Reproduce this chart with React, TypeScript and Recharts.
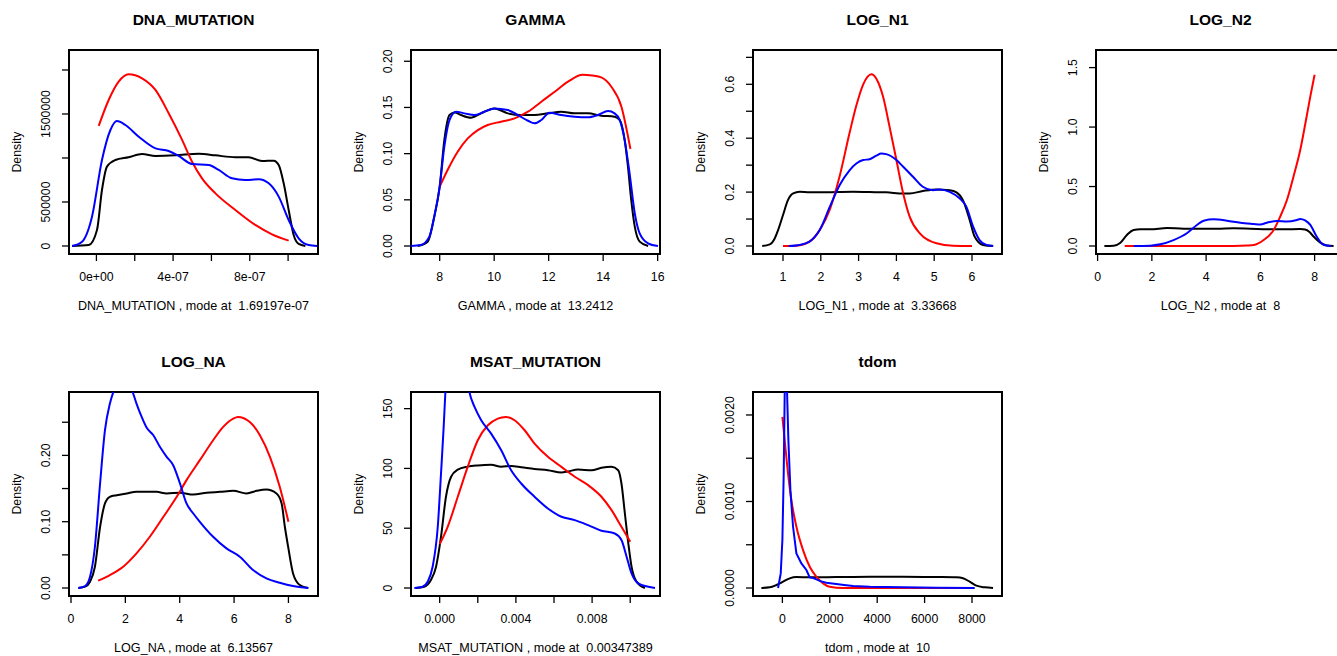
import React from "react";
import { LineChart, Line, XAxis, YAxis, ReferenceArea } from "recharts";

type Pt = [number, number];

const FONT = "'Liberation Sans', Arial, Helvetica, sans-serif";

// density curves: [x, density]
const DNA_BLACK: Pt[] = [
  [-1.27e-7, 0], [-4e-8, 1.1e4], [3e-9, 1.82e5], [2.9e-8, 6.36e5], [5.5e-8, 9.02e5],
  [9.9e-8, 9.77e5], [1.68e-7, 1.008e6], [2.38e-7, 1.045e6], [3.08e-7, 1.023e6],
  [4.12e-7, 1.03e6], [5.34e-7, 1.049e6], [6.21e-7, 1.03e6], [7.25e-7, 1.008e6],
  [7.94e-7, 1.008e6], [8.64e-7, 9.66e5], [9.25e-7, 9.7e5], [9.51e-7, 9.2e5],
  [9.77e-7, 7.12e5], [1.003e-6, 4.09e5], [1.029e-6, 1.25e5], [1.055e-6, 2.3e4], [1.09e-6, 0],
];
const DNA_RED: Pt[] = [
  [1.2e-8, 1.364e6], [6.4e-8, 1.659e6], [1.16e-7, 1.867e6], [1.68e-7, 1.951e6],
  [2.38e-7, 1.905e6], [3.08e-7, 1.773e6], [3.77e-7, 1.508e6], [4.47e-7, 1.205e6],
  [4.99e-7, 9.58e5], [5.51e-7, 7.69e5], [6.21e-7, 5.98e5], [7.25e-7, 4.09e5],
  [8.29e-7, 2.39e5], [9.16e-7, 1.33e5], [1.003e-6, 6.1e4],
];
const DNA_BLUE: Pt[] = [
  [-1.27e-7, 0], [-7.5e-8, 4.9e4], [-2.3e-8, 3.33e5], [2.9e-8, 9.77e5], [7.3e-8, 1.318e6],
  [1.07e-7, 1.42e6], [1.51e-7, 1.375e6], [2.21e-7, 1.242e6], [3.08e-7, 1.11e6],
  [3.77e-7, 1.08e6], [4.29e-7, 1.023e6], [4.99e-7, 9.32e5], [5.86e-7, 9.2e5],
  [6.38e-7, 8.64e5], [7.07e-7, 7.69e5], [7.77e-7, 7.5e5], [8.47e-7, 7.58e5],
  [8.99e-7, 7.12e5], [9.51e-7, 5.61e5], [1.003e-6, 2.95e5], [1.055e-6, 8.7e4],
  [1.107e-6, 1.1e4], [1.151e-6, 0],
];

const GAMMA_BLACK: Pt[] = [
  [7.19, 0], [7.56, 0.0047], [7.8, 0.0317], [8.0, 0.0642], [8.17, 0.1147], [8.36, 0.1418],
  [8.55, 0.1445], [8.78, 0.1418], [9.15, 0.1389], [9.52, 0.1436], [10.01, 0.149],
  [10.5, 0.1436], [10.99, 0.1418], [11.48, 0.1418], [11.97, 0.1436], [12.46, 0.1454],
  [12.95, 0.1436], [13.44, 0.1436], [13.93, 0.1411], [14.42, 0.14], [14.61, 0.1364],
  [14.79, 0.1147], [14.91, 0.0859], [15.03, 0.0498], [15.16, 0.0209], [15.34, 0.0047], [15.65, 0],
];
const GAMMA_RED: Pt[] = [
  [8.0, 0.0642], [8.29, 0.0823], [8.66, 0.1021], [9.03, 0.1165], [9.4, 0.1255], [9.76, 0.131],
  [10.25, 0.1346], [10.75, 0.1382], [11.24, 0.1454], [11.73, 0.1562], [12.22, 0.167],
  [12.71, 0.1779], [13.24, 0.1855], [13.6, 0.1845], [13.93, 0.1825], [14.3, 0.1724],
  [14.67, 0.1508], [15.0, 0.105],
];
const GAMMA_BLUE: Pt[] = [
  [6.95, 0], [7.31, 0.001], [7.62, 0.0101], [7.8, 0.0317], [8.0, 0.0642], [8.17, 0.1075],
  [8.36, 0.1364], [8.6, 0.1454], [8.91, 0.1436], [9.27, 0.1418], [9.64, 0.1454],
  [10.01, 0.149], [10.5, 0.1472], [10.87, 0.1418], [11.24, 0.1356], [11.48, 0.1328],
  [11.73, 0.1364], [12.03, 0.1443], [12.46, 0.1418], [12.95, 0.14], [13.44, 0.1393],
  [13.81, 0.1418], [14.18, 0.1461], [14.42, 0.1436], [14.61, 0.1364], [14.79, 0.1147],
  [14.97, 0.0786], [15.16, 0.0354], [15.34, 0.0137], [15.65, 0.0029], [16.01, 0],
];

const N1_BLACK: Pt[] = [
  [0.45, 0], [0.65, 0.006], [0.78, 0.028], [0.87, 0.059], [1.0, 0.115], [1.13, 0.17],
  [1.27, 0.195], [1.44, 0.201], [1.7, 0.199], [2.06, 0.199], [2.41, 0.2], [2.85, 0.201],
  [3.29, 0.2], [3.73, 0.199], [4.18, 0.195], [4.35, 0.195], [4.7, 0.204], [5.06, 0.21],
  [5.41, 0.207], [5.59, 0.199], [5.76, 0.17], [5.94, 0.096], [6.07, 0.035], [6.29, 0.004], [6.56, 0],
];
const N1_RED: Pt[] = [
  [1.0, 0], [1.35, 0.001], [1.7, 0.016], [1.97, 0.059], [2.24, 0.136], [2.5, 0.26],
  [2.76, 0.419], [2.94, 0.521], [3.12, 0.599], [3.34, 0.637], [3.47, 0.621], [3.65, 0.553],
  [3.82, 0.442], [4.0, 0.319], [4.18, 0.195], [4.35, 0.109], [4.62, 0.047], [5.06, 0.01],
  [5.5, 0.001], [6.0, 0],
];
const N1_BLUE: Pt[] = [
  [1.15, 0], [1.44, 0.004], [1.7, 0.016], [1.97, 0.059], [2.24, 0.146], [2.5, 0.226],
  [2.76, 0.281], [2.94, 0.306], [3.12, 0.319], [3.29, 0.322], [3.47, 0.335], [3.6, 0.343],
  [3.73, 0.341], [4.0, 0.319], [4.18, 0.294], [4.44, 0.257], [4.7, 0.22], [4.97, 0.207],
  [5.15, 0.21], [5.41, 0.201], [5.67, 0.177], [5.85, 0.146], [6.03, 0.072], [6.2, 0.022],
  [6.38, 0.004], [6.56, 0],
];

const N2_BLACK: Pt[] = [
  [0.25, 0], [0.59, 0.003], [0.84, 0.028], [1.08, 0.093], [1.33, 0.135], [1.57, 0.14],
  [1.94, 0.14], [2.56, 0.151], [3.17, 0.146], [3.78, 0.146], [4.4, 0.146], [5.01, 0.149],
  [5.63, 0.146], [6.24, 0.14], [6.86, 0.14], [7.47, 0.143], [7.65, 0.138], [7.8, 0.12],
  [7.96, 0.08], [8.21, 0.028], [8.45, 0.004], [8.7, 0],
];
const N2_RED: Pt[] = [
  [1.0, 0], [2.5, 0], [3.8, 0], [5.0, 0.001], [5.5, 0.004], [5.75, 0.008], [6.12, 0.05],
  [6.49, 0.135], [6.73, 0.247], [6.98, 0.387], [7.22, 0.583], [7.47, 0.807], [7.66, 1.032],
  [7.84, 1.256], [8.0, 1.44],
];
const N2_BLUE: Pt[] = [
  [1.33, 0], [1.94, 0.003], [2.31, 0.014], [2.8, 0.05], [3.29, 0.107], [3.66, 0.177],
  [3.91, 0.213], [4.28, 0.224], [4.77, 0.213], [5.26, 0.196], [5.75, 0.185], [6.0, 0.18],
  [6.24, 0.196], [6.61, 0.21], [6.98, 0.205], [7.35, 0.219], [7.47, 0.227], [7.65, 0.215],
  [7.84, 0.177], [8.08, 0.078], [8.33, 0.01], [8.6, 0],
];

const NA_BLACK: Pt[] = [
  [0.27, 0], [0.52, 0.002], [0.7, 0.0095], [0.88, 0.032], [1.07, 0.092], [1.25, 0.1275],
  [1.43, 0.1375], [1.68, 0.14], [2.05, 0.1426], [2.41, 0.145], [2.78, 0.145], [3.15, 0.145],
  [3.52, 0.1426], [4.01, 0.1436], [4.5, 0.141], [4.99, 0.1436], [5.48, 0.145], [5.97, 0.1466],
  [6.46, 0.1426], [6.83, 0.1466], [7.19, 0.1486], [7.56, 0.1426], [7.75, 0.1275],
  [7.87, 0.092], [7.99, 0.062], [8.17, 0.022], [8.42, 0.0045], [8.73, 0],
];
const NA_RED: Pt[] = [
  [1.0, 0.011], [1.43, 0.0196], [1.92, 0.0321], [2.41, 0.0522], [2.9, 0.0773], [3.4, 0.1074],
  [3.89, 0.1375], [4.25, 0.1627], [4.74, 0.1928], [5.23, 0.2229], [5.6, 0.243], [5.97, 0.2555],
  [6.14, 0.258], [6.58, 0.2505], [6.95, 0.2304], [7.32, 0.1978], [7.68, 0.1526], [8.0, 0.0999],
];
const NA_BLUE: Pt[] = [
  [0.27, 0], [0.52, 0.003], [0.7, 0.017], [0.88, 0.0622], [1.07, 0.1576], [1.25, 0.238],
  [1.43, 0.278], [1.56, 0.2957], [1.75, 0.315], [1.95, 0.322], [2.15, 0.31], [2.27, 0.2957],
  [2.41, 0.278], [2.6, 0.258], [2.78, 0.242], [3.03, 0.2304], [3.27, 0.2129], [3.52, 0.1978],
  [3.76, 0.1852], [4.01, 0.1576], [4.25, 0.1275], [4.5, 0.1124], [4.74, 0.0999],
  [5.23, 0.0773], [5.72, 0.0597], [6.21, 0.0472], [6.7, 0.0271], [7.19, 0.0146],
  [7.68, 0.008], [8.17, 0.003], [8.73, 0],
];

const MSAT_BLACK: Pt[] = [
  [-1.25e-3, 0], [-0.81e-3, 1.1], [-0.46e-3, 6.7], [-0.19e-3, 17.8], [0.07e-3, 42.9],
  [0.33e-3, 76.3], [0.6e-3, 93], [0.95e-3, 99], [1.47e-3, 101.5], [2.0e-3, 102.5],
  [2.7e-3, 103], [3.23e-3, 101.5], [3.75e-3, 102], [4.28e-3, 101], [4.98e-3, 99.5],
  [5.68e-3, 98.5], [6.39e-3, 96.6], [6.74e-3, 97.5], [7.26e-3, 99], [7.97e-3, 98.5],
  [8.49e-3, 100.5], [9.02e-3, 101.3], [9.37e-3, 98.5], [9.54e-3, 87.4], [9.72e-3, 62.3],
  [9.9e-3, 37.3], [10.07e-3, 17.8], [10.33e-3, 5.3], [10.77e-3, 0],
];
const MSAT_RED: Pt[] = [
  [0, 36.7], [0.42e-3, 51.2], [0.95e-3, 76.3], [1.47e-3, 101.3], [2.0e-3, 123.6],
  [2.53e-3, 136.1], [3.05e-3, 141.7], [3.47e-3, 143.1], [3.93e-3, 140.3], [4.46e-3, 131.9],
  [4.98e-3, 120.8], [5.68e-3, 109.7], [6.39e-3, 101.3], [7.09e-3, 93], [7.79e-3, 86],
  [8.49e-3, 76.3], [9.02e-3, 65.1], [9.54e-3, 51.2], [10.0e-3, 38.7],
];
const MSAT_BLUE: Pt[] = [
  [-1.33e-3, 0], [-0.9e-3, 1.1], [-0.63e-3, 5.3], [-0.37e-3, 17.8], [-0.1e-3, 51.2],
  [0.07e-3, 95.7], [0.21e-3, 134.7], [0.3e-3, 163.9], [0.5e-3, 205], [0.8e-3, 230],
  [1.1e-3, 215], [1.35e-3, 185], [1.56e-3, 163.9], [1.83e-3, 151.4], [2.18e-3, 140.3],
  [2.7e-3, 129.1], [3.23e-3, 115.2], [3.75e-3, 98.5], [4.28e-3, 87.4], [4.98e-3, 76.3],
  [5.68e-3, 66.5], [6.39e-3, 59.6], [7.09e-3, 56.8], [7.79e-3, 52.6], [8.49e-3, 47.9],
  [9.19e-3, 45.6], [9.54e-3, 40.1], [9.81e-3, 26.2], [10.07e-3, 12.2], [10.42e-3, 3.9],
  [10.95e-3, 1.1], [11.3e-3, 0],
];

const TDOM_BLACK: Pt[] = [
  [-886, 0], [-534, 7.7e-6], [-253, 3.46e-5], [28, 7.3e-5], [309, 1.12e-4], [591, 1.27e-4],
  [1153, 1.23e-4], [2278, 1.27e-4], [3685, 1.31e-4], [5091, 1.31e-4], [6498, 1.27e-4],
  [7342, 1.23e-4], [7623, 1.12e-4], [7904, 7.3e-5], [8186, 2.7e-5], [8537, 7.7e-6], [8889, 0],
];
const TDOM_RED: Pt[] = [
  [0, 1.977e-3], [98, 1.708e-3], [239, 1.323e-3], [380, 1.015e-3], [591, 7.08e-4],
  [872, 4.38e-4], [1153, 2.46e-4], [1435, 1.31e-4], [1716, 5.4e-5], [1997, 1.54e-5],
  [2560, 0], [3685, 0], [5091, 0], [7060, 0], [8000, 0],
];
const TDOM_BLUE: Pt[] = [
  [-183, 0], [-70, 1.69e-4], [0, 5.54e-4], [56, 1.323e-3], [98, 2.265e-3], [150, 2.6e-3],
  [197, 2.265e-3], [253, 1.708e-3], [338, 1.131e-3], [450, 7.08e-4], [591, 4.0e-4],
  [802, 2.85e-4], [1013, 2.08e-4], [1153, 1.23e-4], [1300, 1.15e-4], [1435, 1.0e-4],
  [1600, 8e-5], [1857, 6.1e-5], [2100, 5.2e-5], [2278, 4.6e-5], [2600, 3.5e-5],
  [2982, 2.3e-5], [3685, 1.5e-5], [5091, 7.7e-6], [6498, 3.8e-6], [8115, 0],
];

// axis ticks and the labels R printed (blank = tick without label)
const DNA_X_TICKS = [0, 2e-7, 4e-7, 6e-7, 8e-7, 1e-6];
const DNA_X_LABELS = ["0e+00", "", "4e-07", "", "8e-07", ""];
const DNA_Y_TICKS = [0, 5e5, 1e6, 1.5e6, 2e6];
const DNA_Y_LABELS = ["0", "500000", "", "1500000", ""];

const GAMMA_X_TICKS = [8, 10, 12, 14, 16];
const GAMMA_X_LABELS = ["8", "10", "12", "14", "16"];
const GAMMA_Y_TICKS = [0, 0.05, 0.1, 0.15, 0.2];
const GAMMA_Y_LABELS = ["0.00", "0.05", "0.10", "0.15", "0.20"];

const N1_X_TICKS = [1, 2, 3, 4, 5, 6];
const N1_X_LABELS = ["1", "2", "3", "4", "5", "6"];
const N1_Y_TICKS = [0, 0.1, 0.2, 0.3, 0.4, 0.5, 0.6, 0.7];
const N1_Y_LABELS = ["0.0", "", "0.2", "", "0.4", "", "0.6", ""];

const N2_X_TICKS = [0, 2, 4, 6, 8];
const N2_X_LABELS = ["0", "2", "4", "6", "8"];
const N2_Y_TICKS = [0, 0.5, 1, 1.5];
const N2_Y_LABELS = ["0.0", "0.5", "1.0", "1.5"];

const NA_X_TICKS = [0, 2, 4, 6, 8];
const NA_X_LABELS = ["0", "2", "4", "6", "8"];
const NA_Y_TICKS = [0, 0.05, 0.1, 0.15, 0.2, 0.25];
const NA_Y_LABELS = ["0.00", "", "0.10", "", "0.20", ""];

const MSAT_X_TICKS = [0, 0.002, 0.004, 0.006, 0.008, 0.01];
const MSAT_X_LABELS = ["0.000", "", "0.004", "", "0.008", ""];
const MSAT_Y_TICKS = [0, 50, 100, 150];
const MSAT_Y_LABELS = ["0", "50", "100", "150"];

const TDOM_X_TICKS = [0, 2000, 4000, 6000, 8000];
const TDOM_X_LABELS = ["0", "2000", "4000", "6000", "8000"];
const TDOM_Y_TICKS = [0, 0.0005, 0.001, 0.0015, 0.002];
const TDOM_Y_LABELS = ["0.0000", "", "0.0010", "", "0.0020"];

type Panel = {
  name: string;
  mode: string;
  black: Pt[];
  red: Pt[];
  blue: Pt[];
  xDomain: [number, number];
  yDomain: [number, number];
  xTicks: number[];
  xLabels: string[];
  yTicks: number[];
  yLabels: string[];
  blueType?: "monotone" | "linear";
};

const PANELS: Panel[] = [
  {
    name: "DNA_MUTATION", mode: "1.69197e-07",
    black: DNA_BLACK, red: DNA_RED, blue: DNA_BLUE,
    xDomain: [-1.43e-7, 1.156e-6], yDomain: [-9.1e4, 2.227e6],
    xTicks: DNA_X_TICKS, xLabels: DNA_X_LABELS, yTicks: DNA_Y_TICKS, yLabels: DNA_Y_LABELS,
  },
  {
    name: "GAMMA", mode: "13.2412",
    black: GAMMA_BLACK, red: GAMMA_RED, blue: GAMMA_BLUE,
    xDomain: [6.947, 16.086], yDomain: [-0.00866, 0.2122],
    xTicks: GAMMA_X_TICKS, xLabels: GAMMA_X_LABELS, yTicks: GAMMA_Y_TICKS, yLabels: GAMMA_Y_LABELS,
  },
  {
    name: "LOG_N1", mode: "3.33668",
    black: N1_BLACK, red: N1_RED, blue: N1_BLUE,
    xDomain: [0.206, 6.794], yDomain: [-0.0297, 0.7273],
    xTicks: N1_X_TICKS, xLabels: N1_X_LABELS, yTicks: N1_Y_TICKS, yLabels: N1_Y_LABELS,
  },
  {
    name: "LOG_N2", mode: "8",
    black: N2_BLACK, red: N2_RED, blue: N2_BLUE,
    xDomain: [-0.059, 9.12], yDomain: [-0.0673, 1.648],
    xTicks: N2_X_TICKS, xLabels: N2_X_LABELS, yTicks: N2_Y_TICKS, yLabels: N2_Y_LABELS,
  },
  {
    name: "LOG_NA", mode: "6.13567",
    black: NA_BLACK, red: NA_RED, blue: NA_BLUE,
    xDomain: [-0.0735, 9.088], yDomain: [-0.01205, 0.2956],
    xTicks: NA_X_TICKS, xLabels: NA_X_LABELS, yTicks: NA_Y_TICKS, yLabels: NA_Y_LABELS,
  },
  {
    name: "MSAT_MUTATION", mode: "0.00347389",
    black: MSAT_BLACK, red: MSAT_RED, blue: MSAT_BLUE,
    xDomain: [-1.505e-3, 11.563e-3], yDomain: [-6.68, 163.9],
    xTicks: MSAT_X_TICKS, xLabels: MSAT_X_LABELS, yTicks: MSAT_Y_TICKS, yLabels: MSAT_Y_LABELS,
  },
  {
    name: "tdom", mode: "10",
    black: TDOM_BLACK, red: TDOM_RED, blue: TDOM_BLUE,
    xDomain: [-1240, 9266], yDomain: [-9.23e-5, 2.2655e-3],
    xTicks: TDOM_X_TICKS, xLabels: TDOM_X_LABELS, yTicks: TDOM_Y_TICKS, yLabels: TDOM_Y_LABELS,
    blueType: "linear",
  },
];

const CELL_W = 342;
const CELL_H = 340;
const BOX_LEFT = 69;
const BOX_W = 249;
const BOX_TOP = 50;
const BOX_H = 204;
const COL_LEFT = [0, 342, 684, 1027];
const ROW_TOP = [0, 342];

const toXY = (pts: Pt[]) => pts.map(([x, y]) => ({ x, y }));

function XTick(props: any) {
  const { x, y, index, labels } = props;
  return (
    <text x={x} y={y} textAnchor="middle" fontSize={12.3} fontFamily={FONT} fill="#000">
      {labels[index] ?? ""}
    </text>
  );
}

function YTick(props: any) {
  const { x, y, index, labels } = props;
  return (
    <text
      x={x}
      y={y}
      transform={`rotate(-90, ${x}, ${y})`}
      textAnchor="middle"
      fontSize={12.3}
      fontFamily={FONT}
      fill="#000"
    >
      {labels[index] ?? ""}
    </text>
  );
}

function DensityPanel({ p, left, top }: { p: Panel; left: number; top: number }) {
  const cx = BOX_LEFT + BOX_W / 2;
  return (
    <div style={{ position: "absolute", left, top, width: CELL_W, height: CELL_H }}>
      <svg
        width={CELL_W}
        height={CELL_H}
        style={{ position: "absolute", left: 0, top: 0, fontFamily: FONT }}
      >
        <text x={cx} y={25} textAnchor="middle" fontSize={15.5} fontWeight="bold" fill="#000">
          {p.name}
        </text>
        <text
          x={cx}
          y={310}
          textAnchor="middle"
          fontSize={12.6}
          fill="#000"
          xmlSpace="preserve"
          style={{ whiteSpace: "pre" }}
        >
          {`${p.name} , mode at  ${p.mode}`}
        </text>
        <text
          x={21}
          y={BOX_TOP + BOX_H / 2}
          transform={`rotate(-90, 21, ${BOX_TOP + BOX_H / 2})`}
          textAnchor="middle"
          fontSize={12.3}
          fill="#000"
        >
          Density
        </text>
      </svg>
      <div style={{ position: "absolute", left: 0, top: 0 }}>
        <LineChart
          width={CELL_W}
          height={CELL_H}
          margin={{ top: BOX_TOP, right: CELL_W - BOX_LEFT - BOX_W, bottom: 0, left: 0 }}
        >
          <XAxis
            dataKey="x"
            type="number"
            domain={p.xDomain}
            allowDataOverflow
            ticks={p.xTicks}
            interval={0}
            height={CELL_H - BOX_TOP - BOX_H}
            axisLine={false}
            tickSize={7}
            tickMargin={20}
            tickLine={{ stroke: "#000", strokeWidth: 1.3 }}
            tick={(t: any) => <XTick {...t} labels={p.xLabels} />}
          />
          <YAxis
            type="number"
            domain={p.yDomain}
            allowDataOverflow
            ticks={p.yTicks}
            interval={0}
            width={BOX_LEFT}
            axisLine={false}
            tickSize={7}
            tickMargin={12}
            tickLine={{ stroke: "#000", strokeWidth: 1.3 }}
            tick={(t: any) => <YTick {...t} labels={p.yLabels} />}
          />
          <Line
            data={toXY(p.black)}
            dataKey="y"
            type="monotone"
            stroke="#000000"
            strokeWidth={2}
            dot={false}
            activeDot={false}
            isAnimationActive={false}
          />
          <Line
            data={toXY(p.red)}
            dataKey="y"
            type="monotone"
            stroke="#FF0000"
            strokeWidth={2}
            dot={false}
            activeDot={false}
            isAnimationActive={false}
          />
          <Line
            data={toXY(p.blue)}
            dataKey="y"
            type={p.blueType ?? "monotone"}
            stroke="#0000FF"
            strokeWidth={2}
            dot={false}
            activeDot={false}
            isAnimationActive={false}
          />
          <ReferenceArea
            x1={p.xDomain[0]}
            x2={p.xDomain[1]}
            y1={p.yDomain[0]}
            y2={p.yDomain[1]}
            fill="none"
            fillOpacity={0}
            stroke="#000"
            strokeWidth={2}
            ifOverflow="visible"
          />
        </LineChart>
      </div>
    </div>
  );
}

export default function App() {
  return (
    <div
      style={{
        position: "fixed",
        left: 0,
        top: 0,
        width: 1337,
        height: 656,
        overflow: "hidden",
        background: "#fff",
      }}
    >
      {PANELS.map((p, i) => (
        <DensityPanel key={p.name} p={p} left={COL_LEFT[i % 4]} top={ROW_TOP[Math.floor(i / 4)]} />
      ))}
    </div>
  );
}
